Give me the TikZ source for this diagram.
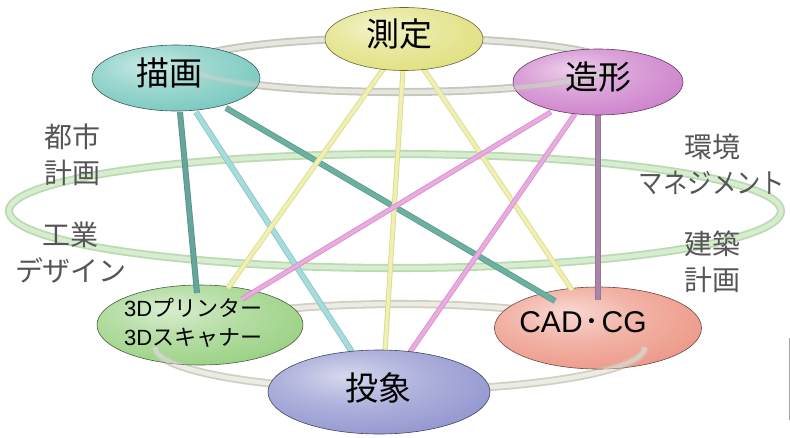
\documentclass[tikz,border=0pt]{standalone}
\usepackage{fontspec}
\usepackage{graphicx}
\usetikzlibrary{shapes.geometric,calc}
\setmainfont{Noto Sans CJK JP}
\newfontfamily\latf{Liberation Sans}
\definecolor{cMeas}{HTML}{E2E286}
\definecolor{cDraw}{HTML}{80CCC2}
\definecolor{cForm}{HTML}{D088CE}
\definecolor{cPrint}{HTML}{A0D48A}
\definecolor{cProj}{HTML}{989CD2}
\definecolor{cCad}{HTML}{EE9E8E}
\definecolor{sidegray}{HTML}{555555}
\definecolor{rgO}{HTML}{C6C6BC}\definecolor{rgI}{HTML}{E6E6E0}
\definecolor{rgGO}{HTML}{BADBB2}\definecolor{rgGI}{HTML}{D8ECD0}
\definecolor{rbO}{HTML}{CFCFC2}\definecolor{rbI}{HTML}{ECECE4}
\definecolor{rbfO}{HTML}{C8C8BC}\definecolor{rbfI}{HTML}{E4E4DC}
\definecolor{rzO}{HTML}{BDBDB4}\definecolor{rzI}{HTML}{DDDDD6}
\definecolor{tA}{HTML}{5A948C}\definecolor{tAi}{HTML}{66A59C}
\definecolor{tB}{HTML}{8CC6C6}\definecolor{tBi}{HTML}{A6DCDC}
\definecolor{tC}{HTML}{5C9E90}\definecolor{tCi}{HTML}{6CB0A2}
\definecolor{yO}{HTML}{DCDC98}\definecolor{yI}{HTML}{F0F0B0}
\definecolor{pO}{HTML}{D890CC}\definecolor{pI}{HTML}{E8ACE0}
\definecolor{vO}{HTML}{987498}\definecolor{vI}{HTML}{A886A8}
\colorlet{ballbase}{cMeas}
\pgfdeclareradialshading[ballbase]{eball}{\pgfpoint{-8bp}{10bp}}{%
  color(0bp)=(ballbase!40!white);
  color(16bp)=(ballbase!78!white);
  color(30bp)=(ballbase);
  color(42bp)=(ballbase!90!black);
  color(50bp)=(ballbase!70!black);
  color(57bp)=(ballbase!48!black);
  color(80bp)=(ballbase!40!black)}
\tikzset{
  ball/.style={ellipse, inner sep=0pt, draw=#1!45!black, line width=0.6pt,
    /utils/exec={\colorlet{ballbase}{#1}}, shading=eball},
  ring/.style 2 args={draw=#1, line width=1.8pt, double=#2, double distance=4.5pt},
  tube/.style n args={3}{draw=#1, line width=0.9pt, double=#2, double distance=#3},
  bigtxt/.style={font=\fontsize{33}{36}\selectfont, text=black, inner sep=0pt},
  sidetxt/.style={font=\fontsize{28}{36}\selectfont, text=sidegray, align=center, inner sep=0pt},
}
\begin{document}
\begin{tikzpicture}[x=1pt,y=-1pt]
\useasboundingbox (0,0) rectangle (790,437);
% rings (full, behind)
\draw[ring={rgO}{rgI}] (400,65) ellipse [x radius=212pt, y radius=27pt];
\draw[ring={rgGO}{rgGI}] (395,211) ellipse [x radius=386pt, y radius=57pt];
\draw[ring={rbO}{rbI}] (400,347) ellipse [x radius=245pt, y radius=43pt];
% lower ellipses
\node[ball=cPrint, minimum width=206pt, minimum height=80pt] (prt) at (200,325) {};
\node[ball=cCad, minimum width=207pt, minimum height=82pt] (cad) at (598,328) {};
\begin{scope}
  \clip (prt.center) ellipse [x radius=103pt, y radius=40pt];
  \draw[ring={rbfO}{rbfI}, opacity=0.5] (155,347) arc [start angle=180, end angle=360, x radius=245pt, y radius=43pt];
\end{scope}
\begin{scope}
  \clip (cad.center) ellipse [x radius=103.5pt, y radius=41pt];
  \draw[ring={rbfO}{rbfI}, opacity=0.5] (155,347) arc [start angle=180, end angle=360, x radius=245pt, y radius=43pt];
\end{scope}
% upper ellipse centres (for connectors)
\coordinate (bygc) at (176,78);
\coordinate (mesc) at (404,39);
\coordinate (zkc) at (598,82);
\coordinate (proc) at (379,392);
% connectors
\draw[tube={tA}{tAi}{4.2pt}] ($(bygc)+(4,34)$) -- ($(prt)+(-3,-32)$);
\draw[tube={tB}{tBi}{4.2pt}] ($(bygc)+(20,34)$) -- ($(proc)+(-27,-40)$);
\draw[tube={tC}{tCi}{4.2pt}] ($(bygc)+(50,30)$) -- ($(cad)+(-43,-27)$);
\draw[tube={yO}{yI}{3.4pt}] ($(mesc)+(-20,29)$) -- ($(prt)+(28,-37)$);
\draw[tube={yO}{yI}{3.4pt}] ($(mesc)+(-1,31)$) -- ($(proc)+(6,-40)$);
\draw[tube={yO}{yI}{3.4pt}] ($(mesc)+(19,29)$) -- ($(cad)+(-26,-38)$);
\draw[tube={pO}{pI}{3.4pt}] ($(zkc)+(-47,30)$) -- ($(prt)+(42,-26)$);
\draw[tube={pO}{pI}{3.4pt}] ($(zkc)+(-23,32)$) -- ($(proc)+(31,-40)$);
\draw[tube={vO}{vI}{4.2pt}] ($(zkc)+(0,32)$) -- ($(cad)+(0,-28)$);
% front ellipses
\node[ball=cProj, minimum width=222pt, minimum height=84pt] (prj) at (proc) {};
\node[ball=cMeas, minimum width=158pt, minimum height=63pt] (mes) at (mesc) {};
\node[ball=cDraw, minimum width=168pt, minimum height=66pt] (byg) at (bygc) {};
\node[ball=cForm, minimum width=170pt, minimum height=66pt] (zk) at (zkc) {};
\begin{scope}
  \clip (byg.center) ellipse [x radius=84pt, y radius=33pt];
  \draw[ring={rgO}{rgI}, opacity=0.22] (188,65) arc [start angle=180, end angle=360, x radius=212pt, y radius=27pt];
\end{scope}
\begin{scope}
  \clip (zk.center) ellipse [x radius=85pt, y radius=33pt];
  \draw[ring={rzO}{rzI}, opacity=0.4] (188,65) arc [start angle=180, end angle=360, x radius=212pt, y radius=27pt];
\end{scope}
% texts
\node[bigtxt] (tmes) at ($(mes)+(-5,-5)$) {測定};
\node[bigtxt] (tbyg) at ($(byg)+(-7,-5)$) {描画};
\node[bigtxt] (tzk) at ($(zk)+(0,-5)$) {造形};
\node[bigtxt] (tprj) at ($(prj)+(-1,-4)$) {投象};
\node[font=\fontsize{30}{34}\selectfont, inner sep=0pt] (tcad) at ($(cad)+(-15,-6)$)
  {{\latf CAD}\hspace{2pt}･\hspace{2pt}{\latf CG}};
\node[font=\fontsize{22}{29}\selectfont, align=left, anchor=west, inner sep=0pt] (tprt) at (124,323)
  {{\latf 3D}プリンター\\{\latf 3D}スキャナー};
% side labels
\node[sidetxt] (s1) at (72,155) {都市\\計画};
\node[sidetxt] (s2) at (71,253) {工業\\デザイン};
\node[sidetxt] (s3) at (712,164) {環境\\\scalebox{0.87}[1]{マネジメント}};
\node[sidetxt] (s4) at (712,262) {建築\\計画};
% edge mark at right border
\draw[gray!70, line width=0.8pt] (789,338) -- (789,420);
\end{tikzpicture}
\end{document}
